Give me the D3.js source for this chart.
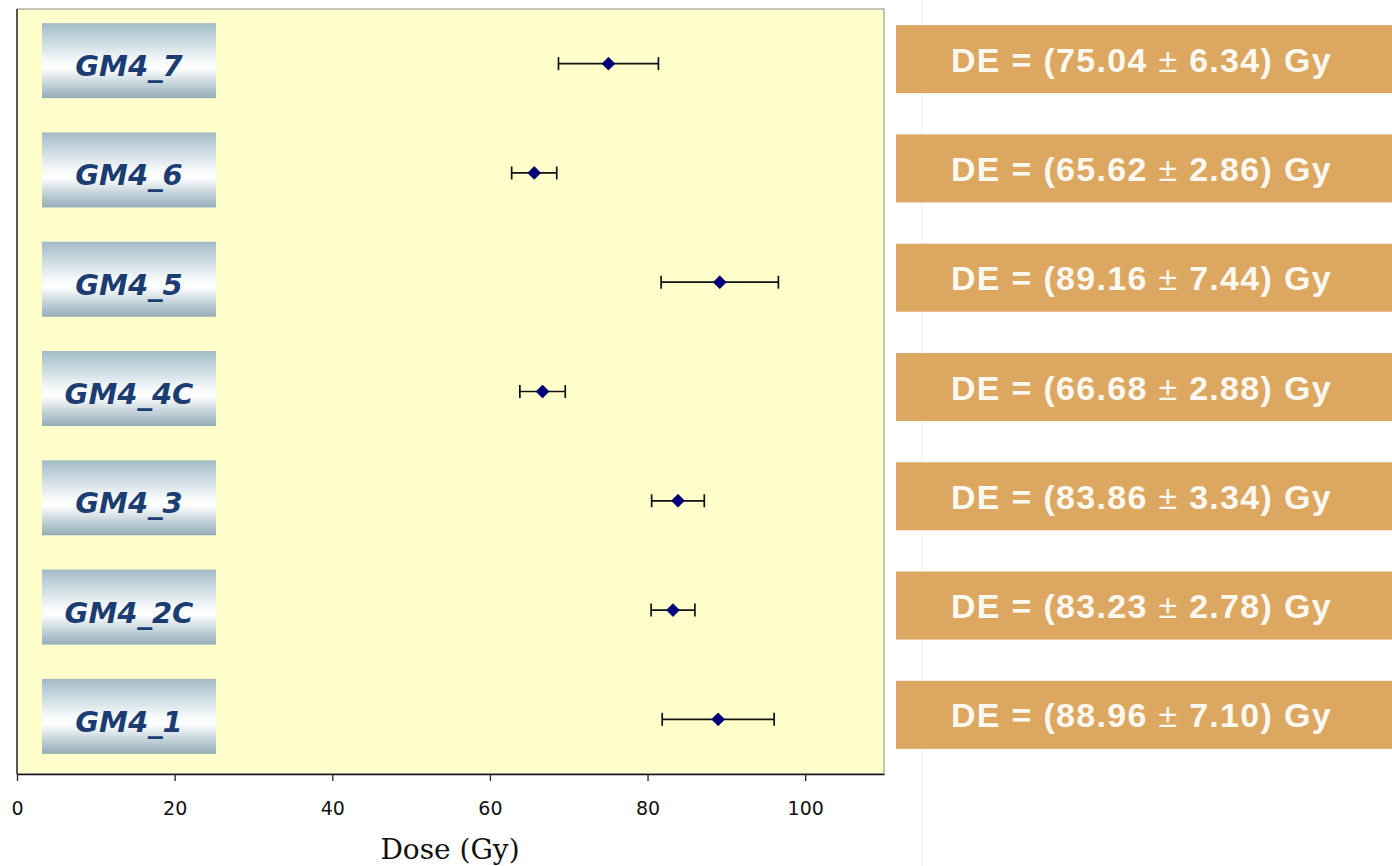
<!DOCTYPE html>
<html>
<head>
<meta charset="utf-8">
<script src="https://cdn.jsdelivr.net/npm/d3@7"></script>
<style>
  html, body { margin: 0; padding: 0; background: #ffffff; }
  svg { display: block; }
</style>
</head>
<body>
<script>
// Equivalent dose (DE) per sample, with its uncertainty, listed bottom to top
const samples = ["GM4_1", "GM4_2C", "GM4_3", "GM4_4C", "GM4_5", "GM4_6", "GM4_7"];
const doses   = [88.96, 83.23, 83.86, 66.68, 89.16, 65.62, 75.04];
const errors  = [7.10, 2.78, 3.34, 2.88, 7.44, 2.86, 6.34];
const xTicks  = [0, 20, 40, 60, 80, 100];
const xTitle  = "Dose (Gy)";

const W = 1392, H = 866;
const plot = { left: 17, right: 884, top: 9, bottom: 774 };

const svg = d3.select("body").append("svg")
  .attr("width", W).attr("height", H);

const defs = svg.append("defs");
const grad = defs.append("linearGradient")
  .attr("id", "labelGrad").attr("x1", 0).attr("y1", 0).attr("x2", 0).attr("y2", 1);
[[0, "#a3bbc6"], [0.18, "#c0d2da"], [0.5, "#f5f9fa"], [0.6, "#ffffff"], [0.85, "#b9cbd3"], [1, "#94adb9"]]
  .forEach(([o, c]) => grad.append("stop").attr("offset", o).attr("stop-color", c));

const x = d3.scaleLinear().domain([0, 110]).range([plot.left, plot.right]);
const y = d3.scaleLinear().domain([0, samples.length]).range([plot.bottom, plot.top]);
const rowY = i => y(i + 0.5);

// faint page divider to the right of the plot
svg.append("line")
  .attr("x1", 922).attr("x2", 922).attr("y1", 0).attr("y2", H)
  .attr("stroke", "#f1f1f1").attr("stroke-width", 1);

// plot background
svg.append("rect")
  .attr("x", plot.left).attr("y", plot.top)
  .attr("width", plot.right - plot.left).attr("height", plot.bottom - plot.top)
  .attr("fill", "#ffffcc").attr("stroke", "#8a8a8a").attr("stroke-width", 1);

// left axis line
svg.append("line")
  .attr("x1", plot.left).attr("x2", plot.left).attr("y1", plot.top).attr("y2", plot.bottom)
  .attr("stroke", "#333").attr("stroke-width", 1.5);

// bottom axis
const xAxis = d3.axisBottom(x).tickValues(xTicks).tickSize(7).tickSizeOuter(0).tickPadding(21);
const gx = svg.append("g").attr("transform", `translate(0,${plot.bottom})`).call(xAxis);
gx.select(".domain").attr("stroke", "#111").attr("stroke-width", 1.5);
gx.selectAll(".tick line").attr("stroke", "#222").attr("stroke-width", 1.3);
gx.selectAll(".tick text")
  .attr("font-family", "'DejaVu Sans', Verdana, sans-serif")
  .attr("font-size", 19).attr("fill", "#111");

svg.append("text")
  .attr("x", 450).attr("y", 859)
  .attr("text-anchor", "middle")
  .attr("font-family", "'DejaVu Serif', 'Liberation Serif', serif")
  .attr("font-size", 28).attr("fill", "#111")
  .text(xTitle);

// sample name plates inside the plot
const plates = svg.append("g").selectAll("g").data(samples).join("g")
  .attr("transform", (d, i) => `translate(42,${rowY(i) - 3 - 37.5})`);
plates.append("rect")
  .attr("width", 174).attr("height", 75)
  .attr("fill", "url(#labelGrad)");
plates.append("text")
  .attr("x", 87).attr("y", 37.5 + 15.5)
  .attr("text-anchor", "middle")
  .attr("font-family", "'Comic Sans MS', 'DejaVu Sans', sans-serif")
  .attr("font-weight", "bold").attr("font-style", "italic")
  .attr("font-size", 29).attr("fill", "#1b3d72")
  .text(d => d);

// error bars and markers
const marks = svg.append("g").selectAll("g").data(samples).join("g");
marks.append("line")
  .attr("x1", (d, i) => x(doses[i] - errors[i]))
  .attr("x2", (d, i) => x(doses[i] + errors[i]))
  .attr("y1", (d, i) => rowY(i)).attr("y2", (d, i) => rowY(i))
  .attr("stroke", "#111").attr("stroke-width", 1.7);
[-1, 1].forEach(s => {
  marks.append("line")
    .attr("x1", (d, i) => x(doses[i] + s * errors[i]))
    .attr("x2", (d, i) => x(doses[i] + s * errors[i]))
    .attr("y1", (d, i) => rowY(i) - 6.5).attr("y2", (d, i) => rowY(i) + 6.5)
    .attr("stroke", "#111").attr("stroke-width", 1.7);
});
marks.append("path")
  .attr("d", d3.symbol().type(d3.symbolDiamond2).size(105))
  .attr("transform", (d, i) => `translate(${x(doses[i])},${rowY(i)})`)
  .attr("fill", "#00007a").attr("stroke", "#000060").attr("stroke-width", 0.8);

// value panels to the right
const panels = svg.append("g").selectAll("g").data(samples).join("g")
  .attr("transform", (d, i) => `translate(896,${rowY(i) - 4.5 - 34})`);
panels.append("rect")
  .attr("width", W - 896).attr("height", 68)
  .attr("fill", "#dca760");
const pt = panels.append("text")
  .attr("x", 55).attr("y", 34 + 12.5)
  .attr("font-family", "'Liberation Sans', Arial, sans-serif")
  .attr("font-weight", "bold").attr("font-size", 34)
  .attr("letter-spacing", 1.3)
  .attr("fill", "#fdf8f0");
pt.append("tspan").text((d, i) => `DE = (${doses[i].toFixed(2)} `);
pt.append("tspan").attr("font-weight", "normal").text("\u00B1");
pt.append("tspan").text((d, i) => ` ${errors[i].toFixed(2)}) Gy`);
</script>
</body>
</html>
